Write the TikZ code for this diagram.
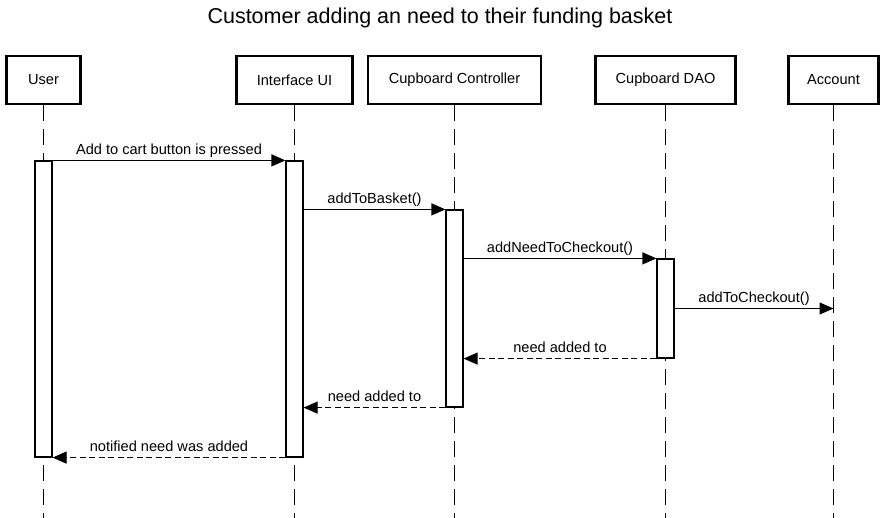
\documentclass[tikz,border=0pt]{standalone}
\usepackage{fontspec}
\setmainfont{Liberation Sans}
\usetikzlibrary{arrows.meta}
\begin{document}
\begin{tikzpicture}[x=1pt, y=-1pt,
		font=\fontsize{14.6}{17}\selectfont,
		actor/.style={draw, line width=2.4pt, minimum height=48pt, inner sep=0pt},
		bar/.style={draw, fill=white, line width=1.2pt, minimum width=17pt, inner sep=0pt},
		lifeline/.style={line width=1.1pt, dash pattern=on 16pt off 8pt},
		call/.style={line width=1.2pt, -{Triangle[length=14pt, width=12pt]}},
		reply/.style={call, dash pattern=on 6pt off 3.5pt},
		msg/.style={above=2pt, inner sep=1pt, text depth=0.25em}]
		\useasboundingbox (0, 0) rectangle (887, 518);
		\node[font=\fontsize{21.5}{25}\selectfont] (title) at (440, 18) {Customer adding an need to their funding basket};
		% participants
		\node[actor, minimum width=74pt] (user) at (43.5, 80) {User};
		\node[actor, minimum width=116pt] (ui) at (294.5, 80) {Interface UI};
		\node[actor, minimum width=173pt] (ctrl) at (454.5, 80) {Cupboard Controller};
		\node[actor, minimum width=140pt] (dao) at (665.5, 80) {Cupboard DAO};
		\node[actor, minimum width=90pt] (acct) at (833.5, 80) {Account};
		\foreach \p in {user, ui, ctrl, dao, acct}
			\draw[lifeline] (\p.south) -- (\p.south |- 0, 518);
		% activation bars
		\node[bar, minimum height=296pt] (ubar) at (43.5, 309) {};
		\node[bar, minimum height=296pt] (uibar) at (294.5, 309) {};
		\node[bar, minimum height=197pt] (cbar) at (454.5, 308.5) {};
		\node[bar, minimum height=99pt] (dbar) at (665.5, 308.5) {};
		% messages
		\draw[call] (ubar.north east) -- node[msg] {Add to cart button is pressed} (uibar.north west);
		\draw[call] (uibar.east |- cbar.north) -- node[msg] {addToBasket()} (cbar.north west);
		\draw[call] (cbar.east |- dbar.north) -- node[msg] {addNeedToCheckout()} (dbar.north west);
		\draw[call] (dbar.east) -- node[msg] {addToCheckout()} (dbar.east -| acct);
		\draw[reply] (dbar.south west) -- node[msg] {need added to} (cbar.east |- dbar.south);
		\draw[reply] (cbar.south west) -- node[msg] {need added to} (uibar.east |- cbar.south);
		\draw[reply] (uibar.south west) -- node[msg] {notified need was added} (ubar.south east);
	\end{tikzpicture}
\end{document}
